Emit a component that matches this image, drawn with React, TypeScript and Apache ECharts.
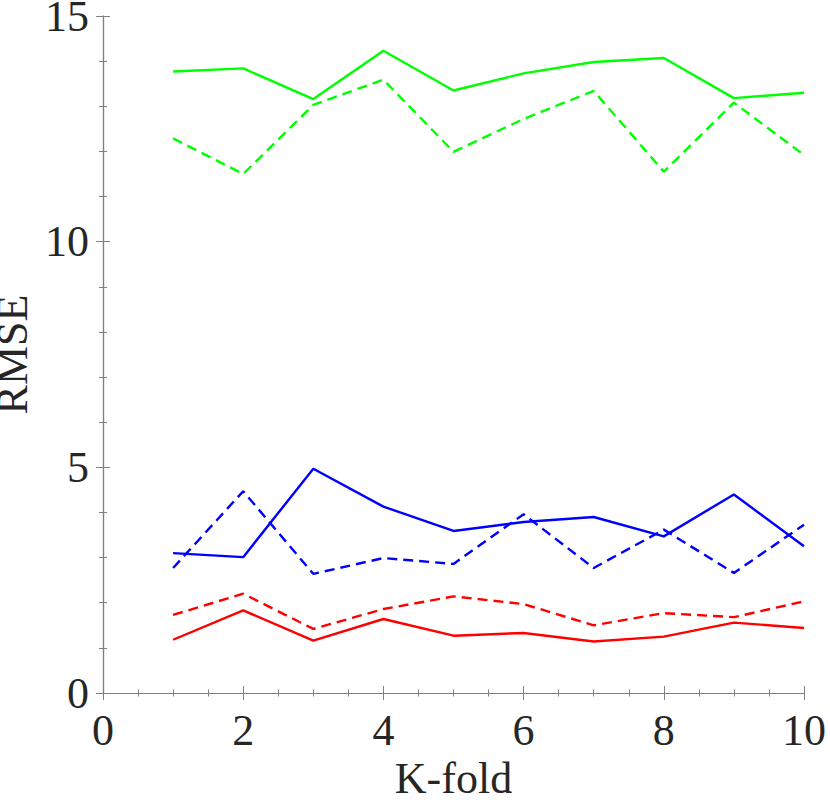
import React, { useEffect, useRef } from "react";
import * as echarts from "echarts";

const folds = [1, 2, 3, 4, 5, 6, 7, 8, 9, 10];
const greenSolid = [13.77, 13.84, 13.16, 14.23, 13.35, 13.73, 13.98, 14.07, 13.18, 13.3];
const greenDashed = [12.29, 11.5, 13.03, 13.59, 11.99, 12.72, 13.34, 11.55, 13.08, 11.92];
const blueSolid = [3.1, 3.01, 4.97, 4.13, 3.59, 3.79, 3.9, 3.47, 4.4, 3.25];
const blueDashed = [2.77, 4.47, 2.64, 2.99, 2.86, 3.96, 2.77, 3.62, 2.66, 3.73];
const redDashed = [1.73, 2.2, 1.42, 1.86, 2.14, 1.97, 1.5, 1.77, 1.68, 2.03];
const redSolid = [1.18, 1.83, 1.16, 1.64, 1.27, 1.33, 1.14, 1.25, 1.56, 1.44];

const FONT = "Liberation Serif";
const TEXT = "#262626";
const AXIS = "#808080";

function mk(name: string, vals: number[], color: string, dashed: boolean) {
  return {
    name,
    type: "line",
    data: folds.map((f, i) => [f, vals[i]]),
    showSymbol: false,
    symbol: "none",
    lineStyle: {
      color,
      width: 2.4,
      type: dashed ? [10, 6] : "solid",
    },
    itemStyle: { color },
    z: 3,
  };
}

export default function App() {
  const ref = useRef<HTMLDivElement>(null);
  useEffect(() => {
    if (!ref.current) return;
    const chart = echarts.init(ref.current, undefined, { renderer: "svg" });
    const axisCommon = {
      axisLine: { show: true, lineStyle: { color: AXIS, width: 1.2 } },
      axisTick: { show: true, inside: true, length: 7, lineStyle: { color: AXIS, width: 1 } },
      splitLine: { show: false },
    };
    const labelStyle = { fontFamily: FONT, fontSize: 44, color: TEXT };
    chart.setOption({
      animation: false,
      backgroundColor: "#ffffff",
      textStyle: { fontFamily: FONT },
      grid: { left: 103, right: 26, top: 16, bottom: 107, containLabel: false, outerBoundsMode: "none" },
      xAxis: [
        {
          type: "value",
          min: 0,
          max: 10,
          interval: 2,
          position: "bottom",
          ...axisCommon,
          minorTick: { show: true, splitNumber: 4, length: 3.5, lineStyle: { color: AXIS, width: 1 } },
          axisLabel: { ...labelStyle, margin: 15 },
          name: "K-fold",
          nameLocation: "middle",
          nameGap: 62,
          nameTextStyle: labelStyle,
        },
        {
          type: "value",
          min: 0,
          max: 10,
          interval: 2,
          position: "top",
          ...axisCommon,
          minorTick: { show: true, splitNumber: 4, length: 3.5, lineStyle: { color: AXIS, width: 1 } },
          axisLabel: { show: false },
        },
      ],
      yAxis: [
        {
          type: "value",
          min: 0,
          max: 15,
          interval: 5,
          position: "left",
          ...axisCommon,
          minorTick: { show: true, splitNumber: 5, length: 4, lineStyle: { color: AXIS, width: 1 } },
          axisLabel: { ...labelStyle, margin: 14 },
          name: "RMSE",
          nameLocation: "middle",
          nameGap: 57,
          nameTextStyle: labelStyle,
        },
        {
          type: "value",
          min: 0,
          max: 15,
          interval: 5,
          position: "right",
          ...axisCommon,
          minorTick: { show: true, splitNumber: 5, length: 4, lineStyle: { color: AXIS, width: 1 } },
          axisLabel: { show: false },
        },
      ],
      series: [
        mk("green solid", greenSolid, "#00ff00", false),
        mk("green dashed", greenDashed, "#00ff00", true),
        mk("blue solid", blueSolid, "#0000ff", false),
        mk("blue dashed", blueDashed, "#0000ff", true),
        mk("red dashed", redDashed, "#ff0000", true),
        mk("red solid", redSolid, "#ff0000", false),
      ],
    });
    return () => chart.dispose();
  }, []);
  return (
    <div
      ref={ref}
      style={{ position: "fixed", left: 0, top: 0, width: 830, height: 800, background: "#fff" }}
    />
  );
}
